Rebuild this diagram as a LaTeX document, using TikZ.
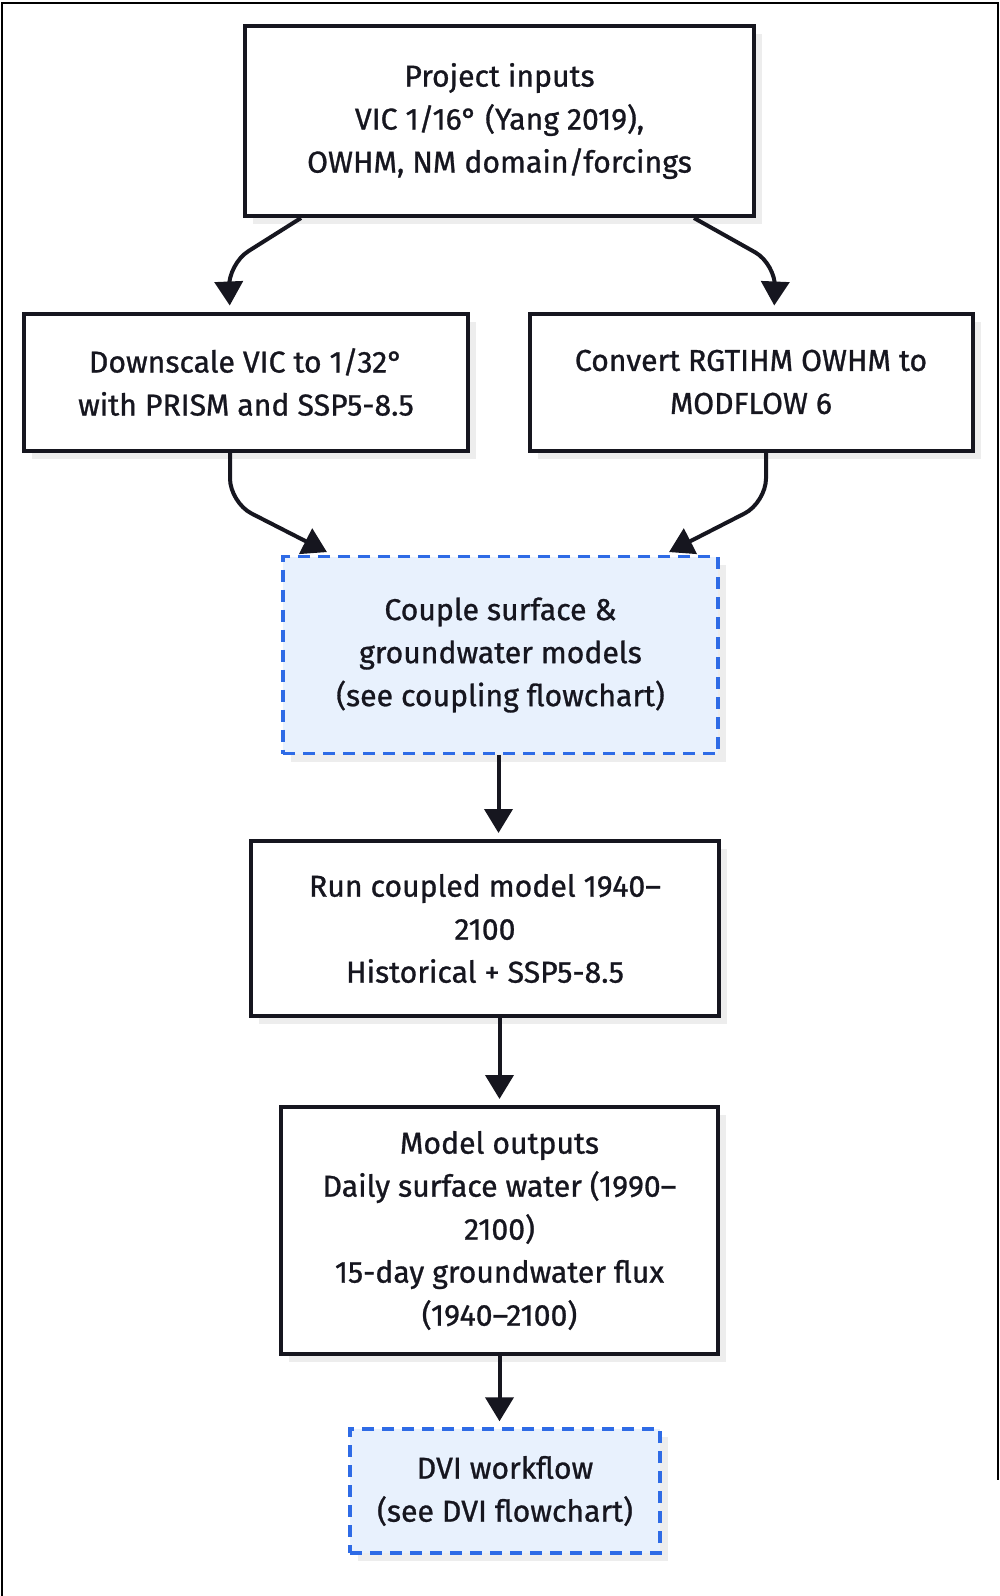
\documentclass[tikz,border=0pt]{standalone}
\usepackage{fontspec}
\setmainfont{Fira Sans}[UprightFeatures={FakeBold=0.9}]
\usetikzlibrary{arrows.meta,shadows}

\definecolor{ink}{HTML}{16161F}
\definecolor{dblue}{HTML}{2E6BE6}
\definecolor{lblue}{HTML}{E8F1FD}

\tikzset{blk/.style={draw=ink, line width=2pt, fill=white, align=center, inner sep=0pt,
    text=ink, font=\fontsize{15.1}{21.5}\selectfont,
    drop shadow={shadow xshift=4pt, shadow yshift=-4pt, fill=black!14}}}
\tikzset{dsh/.style={blk, draw=dblue, fill=lblue, line width=1.7pt, dash pattern=on 6pt off 4pt}}
\tikzset{arr/.style={draw=ink, line width=2pt, rounded corners=12pt,
    -{Triangle[width=14pt,length=12pt]}, shorten >=3pt}}

\begin{document}
\begin{tikzpicture}[x=0.5pt, y=-0.5pt]
\useasboundingbox (0,0) rectangle (1000,1596);
% frame
\draw[line width=1pt] (2,1596) -- (2,3) -- (998,3) -- (998,1480);

\node[blk, minimum width=254.5pt, minimum height=95pt] (top) at (499.5,121)
  {Project inputs\\VIC 1/16° (Yang 2019),\\OWHM, NM domain/forcings};
\node[blk, minimum width=222pt, minimum height=68.5pt] (left) at (246,382)
  {Downscale VIC to 1/32°\\with PRISM and SSP5-8.5};
\node[blk, minimum width=221.5pt, minimum height=68.5pt] (right) at (751,382)
  {Convert RGTIHM OWHM to\\MODFLOW 6};
\node[dsh, minimum width=217.5pt, minimum height=98.5pt] (couple) at (500.5,655)
  {Couple surface \&\\groundwater models\\(see coupling flowchart)};
\node[blk, minimum width=234pt, minimum height=87.5pt] (run) at (485,928.5)
  {Run coupled model 1940–\\2100\\Historical + SSP5-8.5};
\node[blk, minimum width=218.5pt, minimum height=123.5pt] (outputs) at (499.5,1230.5)
  {Model outputs\\Daily surface water (1990–\\2100)\\15-day groundwater flux\\(1940–2100)};
\node[dsh, minimum width=155pt, minimum height=62pt] (dvi) at (505,1491)
  {DVI workflow\\(see DVI flowchart)};

% branches out of the inputs
\draw[arr] ([xshift=29pt]top.south west) -- ++(-73,46) -- ([xshift=-8pt]left.north);
\draw[arr] ([xshift=-31pt]top.south east) -- ++(82,46) -- ([xshift=11.5pt]right.north);
% both preparations feed the coupling
\draw[arr] ([xshift=-8pt]left.south) -- ++(0,50) -- ([xshift=25.5pt]couple.north west);
\draw[arr] ([xshift=7.5pt]right.south) -- ++(0,50) -- ([xshift=-28pt]couple.north east);
% main line
\draw[arr] ([xshift=-1pt]couple.south) -- ([xshift=-1pt]couple.south |- run.north);
\draw[arr] (outputs.north |- run.south) -- (outputs.north);
\draw[arr] (outputs.south) -- (outputs.south |- dvi.north);
\end{tikzpicture}
\end{document}
